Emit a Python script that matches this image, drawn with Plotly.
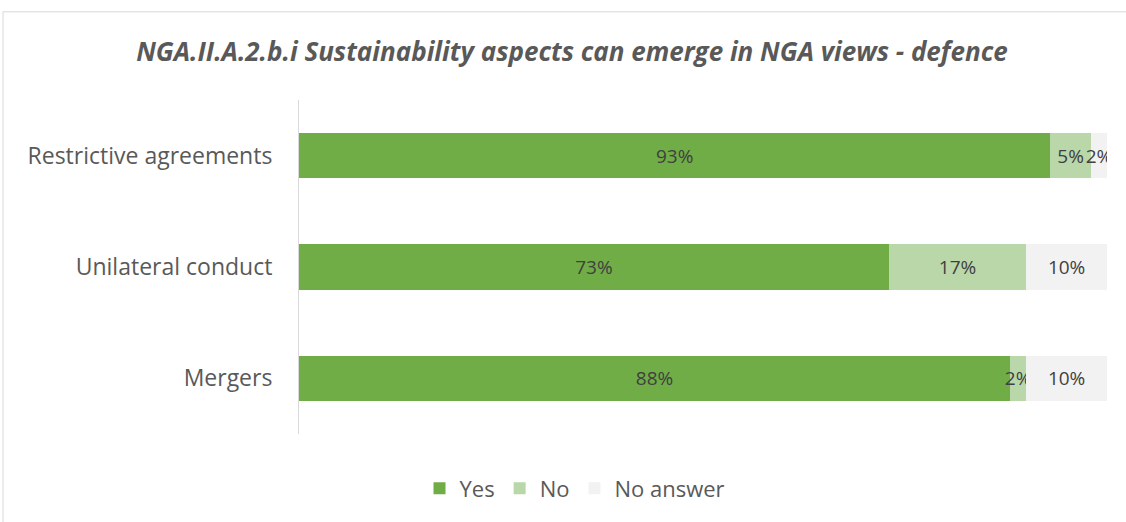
import plotly.graph_objects as go

categories = ["Restrictive agreements", "Unilateral conduct", "Mergers"]
yes_vals = [93, 73, 88]
no_vals = [5, 17, 2]
na_vals = [2, 10, 10]
series_names = ["Yes", "No", "No answer"]
series_colors = ["#70AD47", "#B9D7A8", "#F2F2F2"]
title_text = "NGA.II.A.2.b.i Sustainability aspects can emerge in NGA views - defence"

W, H = 1126, 522
ml, mr, mt, mb = 299, 19, 100, 85
pw, ph = W - ml - mr, H - mt - mb

FONT = "Open Sans"

fig = go.Figure()
for name, vals, col in zip(series_names, [yes_vals, no_vals, na_vals], series_colors):
    fig.add_trace(go.Bar(
        y=categories, x=vals, name=name, orientation="h",
        marker=dict(color=col, line=dict(width=0)),
        text=[f"{v}%" for v in vals],
        textposition="inside", insidetextanchor="middle",
        textangle=0, constraintext="none",
        insidetextfont=dict(family=FONT, size=19, color="#404040"),
        width=0.41,
    ))

def px_x(p):
    return (p - ml) / pw

def px_y(p):
    return (H - mb - p) / ph

fig.update_layout(
    width=W, height=H,
    margin=dict(l=ml, r=mr, t=mt, b=mb),
    barmode="stack",
    plot_bgcolor="white", paper_bgcolor="white",
    uniformtext=dict(minsize=19, mode="show"),
    title=dict(text=f"<b><i>{title_text}</i></b>", x=572 / W, xanchor="center",
               y=1 - 52 / H, yanchor="middle", yref="container",
               font=dict(family=FONT, size=26, color="#595959")),
    xaxis=dict(range=[0, 100], visible=False, fixedrange=True),
    yaxis=dict(autorange="reversed", showline=True, linecolor="#D9D9D9", linewidth=1,
               ticks="", showgrid=False, ticklabelstandoff=21, fixedrange=True,
               tickfont=dict(family=FONT, size=23, color="#595959")),
    legend=dict(orientation="h", x=px_x(575), xanchor="center", y=px_y(492), yanchor="middle",
                font=dict(family=FONT, size=22, color="#595959"), traceorder="normal",
                itemwidth=30),
    showlegend=True,
    shapes=[dict(type="rect", xref="paper", yref="paper",
                 x0=px_x(3), x1=px_x(1140), y0=px_y(540), y1=px_y(11),
                 line=dict(color="#D9D9D9", width=1), fillcolor="rgba(0,0,0,0)", layer="below")],
)

fig.write_html("out.html", config={"displayModeBar": False},
               post_script="document.body.style.margin='0';")
